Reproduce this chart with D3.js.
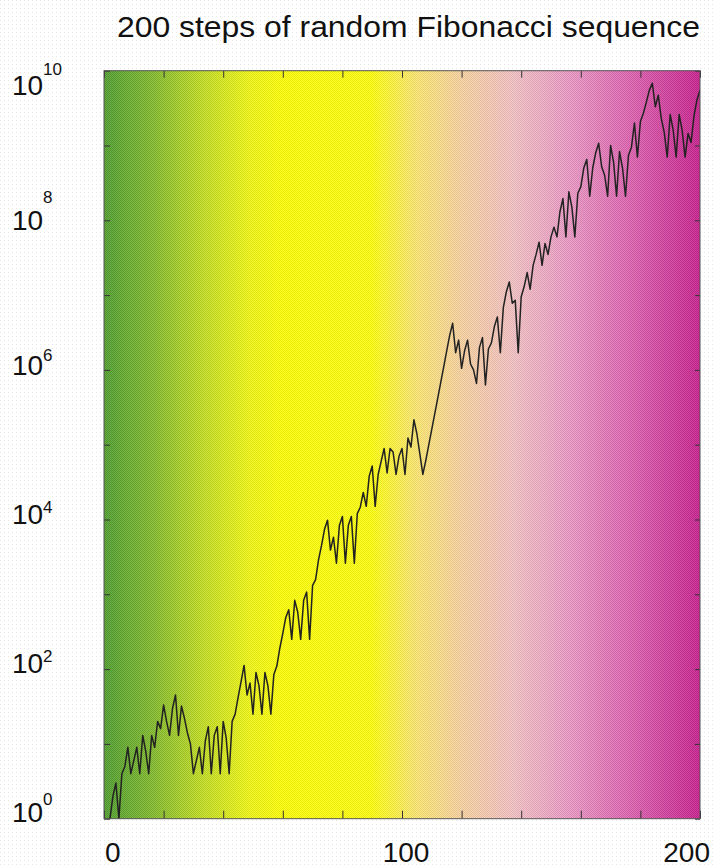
<!DOCTYPE html>
<html>
<head>
<meta charset="utf-8">
<script src="https://cdn.jsdelivr.net/npm/d3@7"></script>
<style>
  body { margin: 0; background: #fff; }
  svg { display: block; }
  text { font-family: "Liberation Sans", Arial, Helvetica, sans-serif; fill: #111; }
</style>
</head>
<body>
<div id="chart"></div>
<script>
const title = "200 steps of random Fibonacci sequence";
const xTickLabels = [0, 100, 200];
const yTickExponents = [0, 2, 4, 6, 8, 10];

// |t_n|, n = 1..200
const steps1to50 = [1, 1, 2, 3, 1, 4, 5, 9, 4, 6,
  9, 4, 13, 8, 4, 13, 9, 20, 16, 33,
  20, 13, 30, 45, 13, 32, 22, 14, 10, 4,
  6, 9, 4, 11, 17, 4, 13, 17, 4, 20,
  12, 4, 20, 25, 42, 68, 112, 45, 65, 25];
const steps51to100 = [90, 60, 25, 90, 60, 25, 85, 110, 190, 300,
  490, 620, 250, 830, 580, 250, 830, 1070, 250, 1320,
  1570, 2900, 4500, 7400, 9800, 3900, 5800, 2600, 8400, 11000,
  2600, 8400, 11000, 2600, 12000, 14600, 23000, 15000, 38000, 52000,
  15000, 40000, 60000, 89000, 42000, 89000, 80000, 40000, 70000, 89000];
const steps101to150 = [40000, 123000, 93000, 215000, 140000, 75000, 40000, 62000, 100000, 162000,
  260000, 420000, 680000, 1.1e6, 1.8e6, 2.9e6, 4.2e6, 1.7e6, 2.5e6, 1.05e6,
  1.8e6, 2.5e6, 1.2e6, 1.0e6, 6.6e5, 2.0e6, 2.7e6, 6.3e5, 1.9e6, 2.3e6,
  3.8e6, 5.1e6, 1.7e6, 6.8e6, 1.1e7, 1.5e7, 7.8e6, 8.5e6, 1.7e6, 9.5e6,
  1.3e7, 2.0e7, 1.2e7, 2.5e7, 3.5e7, 5.1e7, 2.5e7, 4.9e7, 3.5e7, 6e7];
const steps151to200 = [8.1e7, 6e7, 1.3e8, 1.95e8, 6e7, 2.4e8, 1.5e8, 6e7, 2.3e8, 2.8e8,
  5e8, 6.5e8, 2.1e8, 5e8, 8e8, 1.07e9, 5.2e8, 4e8, 2.1e8, 1e9,
  6e8, 2.1e8, 8.3e8, 5e8, 2.1e8, 7.4e8, 9.5e8, 2e9, 7e8, 2.1e9,
  2.7e9, 3.8e9, 5.5e9, 6.8e9, 3.3e9, 4.7e9, 2.3e9, 1.5e9, 7e8, 2.6e9,
  1.6e9, 7e8, 2.6e9, 1.6e9, 7e8, 1.45e9, 1.1e9, 2.5e9, 4.1e9, 5.5e9];
const values = steps1to50.concat(steps51to100, steps101to150, steps151to200);

const width = 716, height = 867;
const plot = { left: 104, right: 700, top: 70.7, bottom: 818.7 };

const svg = d3.select("#chart").append("svg")
  .attr("width", width)
  .attr("height", height);

const defs = svg.append("defs");

// faint scan dots on the paper
const paper = defs.append("pattern")
  .attr("id", "paper")
  .attr("width", 4).attr("height", 4)
  .attr("patternUnits", "userSpaceOnUse");
paper.append("rect").attr("width", 4).attr("height", 4).attr("fill", "#fff");
paper.append("rect").attr("width", 1).attr("height", 1).attr("fill", "#e6e6e6");

const grad = defs.append("linearGradient")
  .attr("id", "bg")
  .attr("gradientUnits", "userSpaceOnUse")
  .attr("x1", plot.left).attr("x2", plot.right)
  .attr("y1", 0).attr("y2", 0);
[
  [0.00, "#4e9e2c"],
  [0.08, "#7fb92a"],
  [0.16, "#bedb20"],
  [0.24, "#eef612"],
  [0.30, "#ffff04"],
  [0.45, "#ffff0c"],
  [0.52, "#fde86c"],
  [0.60, "#f9d2a0"],
  [0.69, "#f3c0c4"],
  [0.78, "#eb98c4"],
  [0.88, "#de62b0"],
  [1.00, "#c8208e"]
].forEach(s => grad.append("stop").attr("offset", s[0]).attr("stop-color", s[1]));

// checker dither
const dither = defs.append("pattern")
  .attr("id", "dither")
  .attr("width", 2).attr("height", 2)
  .attr("patternUnits", "userSpaceOnUse");
dither.append("rect").attr("x", 0).attr("y", 0).attr("width", 1).attr("height", 1).attr("fill", "rgba(0,0,0,0.08)");
dither.append("rect").attr("x", 1).attr("y", 1).attr("width", 1).attr("height", 1).attr("fill", "rgba(0,0,0,0.08)");
dither.append("rect").attr("x", 1).attr("y", 0).attr("width", 1).attr("height", 1).attr("fill", "rgba(255,255,255,0.14)");
dither.append("rect").attr("x", 0).attr("y", 1).attr("width", 1).attr("height", 1).attr("fill", "rgba(255,255,255,0.14)");

defs.append("clipPath").attr("id", "clip")
  .append("rect")
  .attr("x", plot.left).attr("y", plot.top)
  .attr("width", plot.right - plot.left)
  .attr("height", plot.bottom - plot.top);

svg.append("rect").attr("width", width).attr("height", height).attr("fill", "url(#paper)");

const x = d3.scaleLinear().domain([0, 200]).range([plot.left, plot.right]);
const y = d3.scaleLog().domain([1, 1e10]).range([plot.bottom, plot.top]);

svg.append("rect")
  .attr("x", plot.left).attr("y", plot.top)
  .attr("width", plot.right - plot.left)
  .attr("height", plot.bottom - plot.top)
  .attr("fill", "url(#bg)");
svg.append("rect")
  .attr("x", plot.left).attr("y", plot.top)
  .attr("width", plot.right - plot.left)
  .attr("height", plot.bottom - plot.top)
  .attr("fill", "url(#dither)");

// the walk
const line = d3.line()
  .x((d, i) => x(i + 1))
  .y(d => y(d));

svg.append("path")
  .datum(values)
  .attr("clip-path", "url(#clip)")
  .attr("fill", "none")
  .attr("stroke", "#222")
  .attr("stroke-width", 1.5)
  .attr("stroke-linejoin", "round")
  .attr("d", line);

// ticks, pointing inwards on all four sides
const xTicks = d3.range(0, 201, 20);
const yTicks = d3.range(0, 11).map(e => Math.pow(10, e));

svg.append("g")
  .attr("transform", `translate(0,${plot.bottom})`)
  .call(d3.axisBottom(x).tickValues(xTicks).tickSize(-8).tickFormat(""));
svg.append("g")
  .attr("transform", `translate(0,${plot.top})`)
  .call(d3.axisTop(x).tickValues(xTicks).tickSize(-7).tickFormat(""));
svg.append("g")
  .attr("transform", `translate(${plot.left},0)`)
  .call(d3.axisLeft(y).tickValues(yTicks).tickSize(-6).tickFormat(""));
svg.append("g")
  .attr("transform", `translate(${plot.right},0)`)
  .call(d3.axisRight(y).tickValues(yTicks).tickSize(-5).tickFormat(""));

svg.selectAll(".domain").remove();
svg.selectAll(".tick line").attr("stroke", "#333").attr("stroke-width", 1);

svg.append("rect")
  .attr("x", plot.left).attr("y", plot.top)
  .attr("width", plot.right - plot.left)
  .attr("height", plot.bottom - plot.top)
  .attr("fill", "none")
  .attr("stroke", "#555")
  .attr("stroke-width", 1);

// x labels
const xLabelPlace = { 0: ["start", 1], 100: ["middle", 4], 200: ["end", 10] };
svg.selectAll(".xlab")
  .data(xTickLabels)
  .join("text")
  .attr("class", "xlab")
  .attr("x", d => x(d) + xLabelPlace[d][1])
  .attr("y", 862)
  .attr("text-anchor", d => xLabelPlace[d][0])
  .attr("font-size", 28)
  .text(d => d);

// y labels: 10 with a raised exponent
const yLabelShift = { 0: [3, 17], 2: [4, 11], 4: [4, 11], 6: [5, 14], 8: [10, 27], 10: [24, 20] };
const ylab = svg.selectAll(".ylab")
  .data(yTickExponents)
  .join("g")
  .attr("class", "ylab");
ylab.append("text")
  .attr("x", 12)
  .attr("y", d => y(Math.pow(10, d)) + yLabelShift[d][0])
  .attr("font-size", 28)
  .text("10");
ylab.append("text")
  .attr("x", 43)
  .attr("y", d => y(Math.pow(10, d)) + yLabelShift[d][0] - yLabelShift[d][1])
  .attr("font-size", 17)
  .text(d => d);

svg.append("text")
  .attr("x", 117)
  .attr("y", 37)
  .attr("font-size", 29)
  .attr("textLength", 583)
  .attr("lengthAdjust", "spacingAndGlyphs")
  .text(title);
</script>
</body>
</html>
